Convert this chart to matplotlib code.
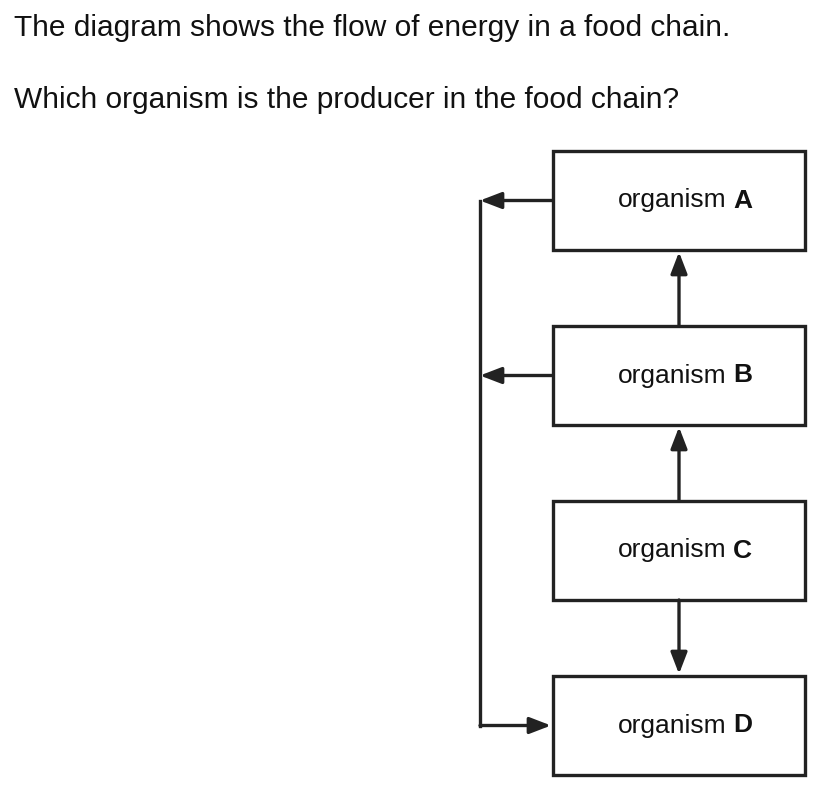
import matplotlib.pyplot as plt
from matplotlib.patches import Rectangle

plt.rcParams["font.family"] = ["Liberation Sans", "DejaVu Sans"]

question = "The diagram shows the flow of energy in a food chain."
prompt = "Which organism is the producer in the food chain?"
organisms = ["A", "B", "C", "D"]

fig = plt.figure(figsize=(8.23, 7.96), dpi=100)
ax = fig.add_axes([0, 0, 1, 1])
ax.set_xlim(0, 823)
ax.set_ylim(796, 0)
ax.axis("off")

ax.text(14, 28, question, fontsize=21.5, va="center", ha="left", color="#111")
ax.text(14, 100, prompt, fontsize=21.5, va="center", ha="left", color="#111")

lw = 2.4
col = "#222"
box_x, box_w, box_h = 553, 252, 99
tops = [151, 326, 501, 676]
cx = box_x + box_w / 2

for name, top in zip(organisms, tops):
    ax.add_patch(Rectangle((box_x, top), box_w, box_h, fill=False, lw=lw, ec=col))
    ax.text(727, top + box_h / 2, "organism", fontsize=19, ha="right", va="center", color="#111")
    ax.text(733, top + box_h / 2, name, fontsize=19, ha="left", va="center",
            fontweight="bold", color="#111")

aprops = dict(arrowstyle="-|>,head_length=1.3,head_width=0.5", lw=lw, color=col,
              shrinkA=0, shrinkB=0)

def arrow(x0, y0, x1, y1):
    ax.annotate("", xy=(x1, y1), xytext=(x0, y0), arrowprops=aprops)

# vertical links between boxes
arrow(cx, tops[1], cx, tops[0] + box_h + 2)
arrow(cx, tops[2], cx, tops[1] + box_h + 2)
arrow(cx, tops[2] + box_h, cx, tops[3] - 2)

# decomposer loop on the left
left = 480
for top in tops[:2]:
    arrow(box_x, top + box_h / 2, left, top + box_h / 2)
ax.plot([left, left], [tops[0] + box_h / 2, tops[3] + box_h / 2],
        color=col, lw=lw, solid_capstyle="projecting")
arrow(left, tops[3] + box_h / 2, box_x - 2, tops[3] + box_h / 2)

fig.savefig("out.png", dpi=100)
